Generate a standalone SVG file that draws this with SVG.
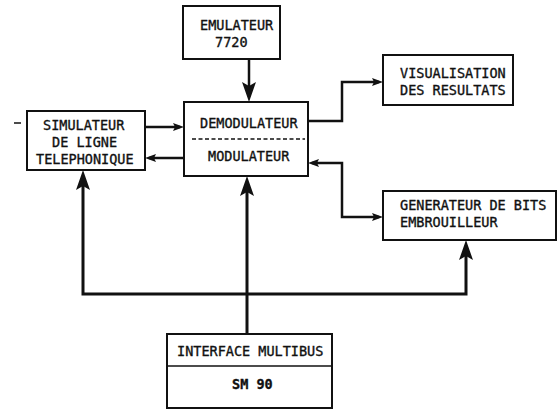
<svg xmlns="http://www.w3.org/2000/svg" width="558" height="416" viewBox="0 0 558 416">
<style>
.box{fill:#fff;stroke:#111;stroke-width:2}
.t{font-family:"DejaVu Sans Mono","Liberation Mono",monospace;font-size:13.5px;fill:#111;stroke:#111;stroke-width:0.35}
.b{font-weight:bold}
.c{fill:none;stroke:#111;stroke-width:2.5}
.bus{fill:none;stroke:#111;stroke-width:3}
</style>
<defs>
<marker id="big" markerUnits="userSpaceOnUse" markerWidth="20" markerHeight="14" refX="14" refY="7" orient="auto-start-reverse">
<path d="M0,0 L20,7 L0,14 L4,7 z" fill="#111"/>
</marker>
<marker id="sm" markerUnits="userSpaceOnUse" markerWidth="11" markerHeight="8" refX="7" refY="4" orient="auto-start-reverse">
<path d="M0,0 L11,4 L0,8 L2,4 z" fill="#111"/>
</marker>
</defs>
<g id="connectors">
<path class="c" d="M249,59 V96" marker-end="url(#big)"/>
<path class="c" d="M145,127 H180" marker-end="url(#sm)"/>
<path class="c" d="M184,158 H149" marker-end="url(#sm)"/>
<path class="c" d="M308,121 H342 V82 H379" marker-end="url(#sm)"/>
<path class="c" d="M312,163 H342 V217 H379" marker-start="url(#sm)" marker-end="url(#sm)"/>
<path class="bus" d="M247,334 V182" marker-end="url(#big)"/>
<path class="bus" d="M466,246 V294 H83 V176" marker-start="url(#big)" marker-end="url(#big)"/>
<line x1="14" y1="123" x2="21" y2="123" stroke="#111" stroke-width="1.5"/>
</g>
<g id="emulateur">
<rect class="box" x="183" y="6" width="97" height="53"/>
<text class="t" x="200" y="30">EMULATEUR</text>
<text class="t" x="215" y="47">7720</text>
</g>
<g id="demodulateur">
<rect class="box" x="184" y="102" width="124" height="74"/>
<text class="t" x="200" y="128">DEMODULATEUR</text>
<line x1="192" y1="139" x2="305" y2="139" stroke="#111" stroke-width="1.3" stroke-dasharray="4 2.5"/>
<text class="t" x="208" y="161">MODULATEUR</text>
</g>
<g id="simulateur">
<rect class="box" x="27" y="111" width="118" height="59"/>
<text class="t" x="43" y="130">SIMULATEUR</text>
<text class="t" x="52" y="147">DE LIGNE</text>
<text class="t" x="36" y="164">TELEPHONIQUE</text>
</g>
<g id="visualisation">
<rect class="box" x="383" y="55" width="130" height="50"/>
<text class="t" x="400" y="78">VISUALISATION</text>
<text class="t" x="400" y="95">DES RESULTATS</text>
</g>
<g id="generateur">
<rect class="box" x="383" y="191" width="173" height="49"/>
<text class="t" x="400" y="210">GENERATEUR DE BITS</text>
<text class="t" x="400" y="227">EMBROUILLEUR</text>
</g>
<g id="interface">
<rect class="box" x="167" y="334" width="165" height="74"/>
<line x1="167" y1="366" x2="332" y2="366" stroke="#111" stroke-width="1.5"/>
<text class="t" x="177" y="356">INTERFACE MULTIBUS</text>
<text class="t b" x="232" y="389">SM 90</text>
</g>
</svg>
